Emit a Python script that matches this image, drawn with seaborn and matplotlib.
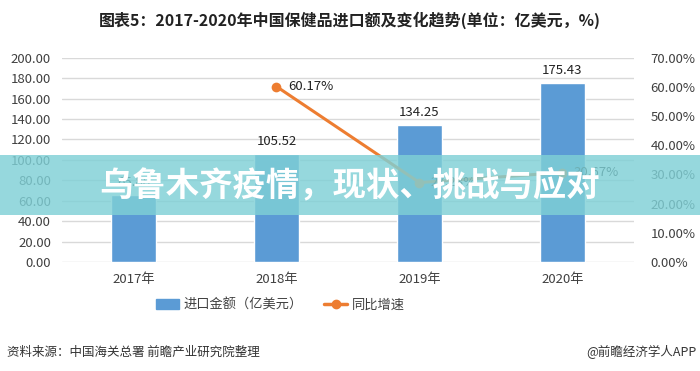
import numpy as np
import pandas as pd
import matplotlib.pyplot as plt
import seaborn as sns
from matplotlib.patches import Rectangle
from matplotlib.lines import Line2D
from matplotlib.ticker import FuncFormatter

# 数据
years = ['2017年', '2018年', '2019年', '2020年']
imports = [65.88, 105.52, 134.25, 175.43]
growth = [np.nan, 60.17, 27.23, 30.67]

sns.set_theme(style='white')
plt.rcParams['font.family'] = ['Noto Sans CJK SC', 'DejaVu Sans']

bar_color = '#5b9bd5'
line_color = '#ed7d31'
text_color = '#404040'

fig = plt.figure(figsize=(7, 3.71), dpi=100)
ax = fig.add_axes([0.0886, 0.294, 0.817, 0.55])

df = pd.DataFrame({'year': years, 'imports': imports, 'growth': growth})
sns.barplot(data=df, x='year', y='imports', color=bar_color, saturation=1,
            width=0.31, ax=ax, zorder=2)
ax.set_ylim(0, 200)
ax.set_yticks(np.arange(0, 201, 20))
ax.yaxis.set_major_formatter(FuncFormatter(lambda v, p: f'{v:.2f}'))
ax.grid(axis='y', color='#d9d9d9', lw=1, zorder=0)
ax.set_xlabel('')
ax.set_ylabel('')
for s in ax.spines.values():
    s.set_visible(False)
ax.tick_params(axis='both', colors=text_color, labelsize=9.5, length=0, pad=8)

for i, v in enumerate(imports):
    ax.text(i, v + 6, f'{v:.2f}', ha='center', va='bottom', fontsize=9.5, color='#222222')

ax2 = ax.twinx()
xs = np.arange(len(years))
sns.lineplot(x=xs[1:], y=growth[1:], color=line_color, lw=2.2, marker='o',
             markersize=7, markeredgewidth=0, ax=ax2, zorder=3)
ax2.set_ylim(0, 70)
ax2.set_yticks(np.arange(0, 71, 10))
ax2.yaxis.set_major_formatter(FuncFormatter(lambda v, p: f'{v:.2f}%'))
for s in ax2.spines.values():
    s.set_visible(False)
ax2.tick_params(axis='y', colors=text_color, labelsize=9.5, length=0, pad=12)
ax.set_xlim(-0.5, 3.5)
for x, g in zip(xs[1:], growth[1:]):
    ax2.text(x + 0.08, g, f'{g:.2f}%', ha='left', va='center', fontsize=9.5, color='#222222')

fig.text(0.5, 0.945, '图表5：2017-2020年中国保健品进口额及变化趋势(单位：亿美元，%)',
         ha='center', va='center', fontsize=11.5, fontweight='bold', color='#222222')

handles = [Rectangle((0, 0), 1, 1, color=bar_color),
           Line2D([0], [0], color=line_color, lw=2.5, marker='o', markersize=6)]
fig.legend(handles, ['进口金额（亿美元）', '同比增速'], loc='center',
           bbox_to_anchor=(0.4, 0.178), ncol=2, frameon=False, fontsize=9.5,
           handlelength=1.8, handletextpad=0.3, columnspacing=1.6, labelcolor=text_color)

fig.text(0.01, 0.05, '资料来源：中国海关总署 前瞻产业研究院整理', ha='left', va='center',
         fontsize=9, color='#333333')
fig.text(0.995, 0.05, '@前瞻经济学人APP', ha='right', va='center', fontsize=9, color='#333333')

# 横幅
fig.patches.append(Rectangle((0, 0.42), 1, 0.163, transform=fig.transFigure,
                             facecolor='#7fd0d6', alpha=0.82, edgecolor='none', zorder=5))
fig.text(0.5, 0.5, '乌鲁木齐疫情，现状、挑战与应对', ha='center', va='center',
         fontsize=24, fontweight='bold', color='white', zorder=6)

fig.savefig('out.png', dpi=100)
